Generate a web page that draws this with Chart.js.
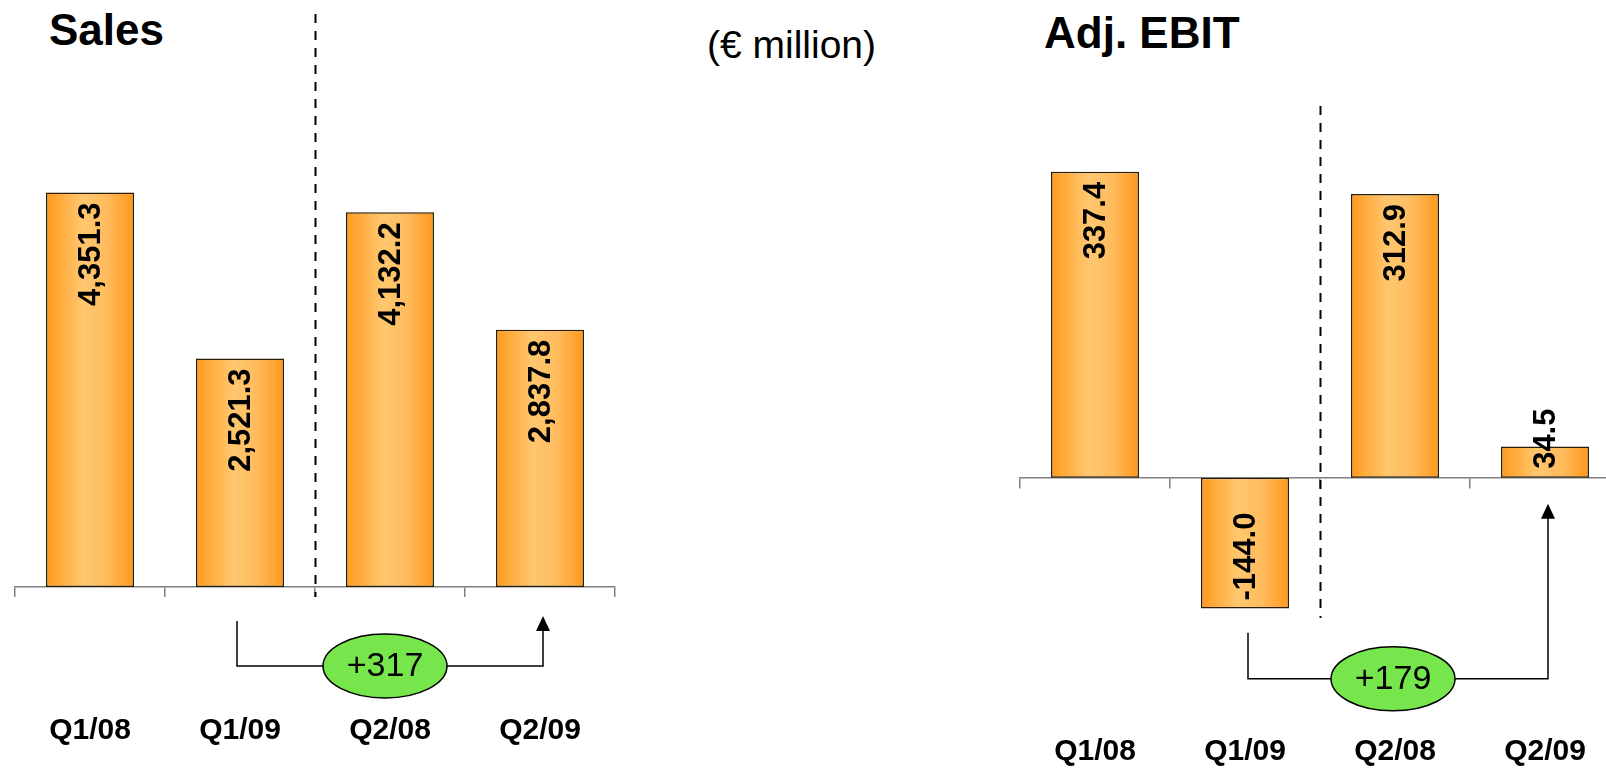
<!DOCTYPE html>
<html>
<head>
<meta charset="utf-8">
<script src="https://cdn.jsdelivr.net/npm/chart.js@4.4.1/dist/chart.umd.min.js"></script>
<style>
  html, body { margin: 0; padding: 0; width: 1606px; height: 769px; overflow: hidden; background: #fff; }
  body { position: relative; font-family: "Liberation Sans", Arial, sans-serif; }
  canvas { position: absolute; top: 0; }
  .title { position: absolute; font-weight: bold; font-size: 44px; line-height: 1; color: #000; white-space: nowrap; }
  .unit { position: absolute; font-size: 39px; line-height: 1; color: #000; white-space: nowrap; }
</style>
</head>
<body>

<div class="title" style="left:49px; top:8px;">Sales</div>
<div class="unit" style="left:707px; top:25px;">(€ million)</div>
<div class="title" style="left:1044px; top:11px;">Adj. EBIT</div>

<canvas id="salesChart" width="640" height="769" style="left:0;"></canvas>
<canvas id="ebitChart" width="640" height="769" style="left:1000px;"></canvas>

<script>
// ----------------------------------------------------
// data (€ million)
// ----------------------------------------------------
const quarters = ["Q1/08", "Q1/09", "Q2/08", "Q2/09"];
const salesValues = [4351.3, 2521.3, 4132.2, 2837.8];
const ebitValues = [337.4, -144.0, 312.9, 34.5];
const salesChange = "+317";
const ebitChange = "+179";

const FONT = '"Liberation Sans", Arial, sans-serif';
const BAR_PCT = 0.587;

function fmt(v) {
  return v.toLocaleString("en-US", { minimumFractionDigits: 1, maximumFractionDigits: 1 });
}

// orange bars with the lighter stripe left of centre
function barFill(c) {
  const chart = c.chart;
  const xs = chart.scales && chart.scales.x;
  if (!xs || c.dataIndex === undefined) return "#ffae42";
  const cx = xs.getPixelForValue(c.dataIndex);
  const half = xs.width / chart.data.labels.length * BAR_PCT / 2;
  if (!isFinite(cx) || !isFinite(half) || half <= 0) return "#ffae42";
  const g = chart.ctx.createLinearGradient(cx - half, 0, cx + half, 0);
  g.addColorStop(0, "#ff9a1c");
  g.addColorStop(0.42, "#ffc770");
  g.addColorStop(0.7, "#ffbb5c");
  g.addColorStop(1, "#ff971a");
  return g;
}

// rotated value labels inside the bars
const valueLabels = {
  id: "valueLabels",
  afterDatasetsDraw(chart) {
    const ctx = chart.ctx;
    const meta = chart.getDatasetMeta(0);
    const base = chart.scales.y.getPixelForValue(0);
    const data = chart.data.datasets[0].data;
    ctx.save();
    ctx.font = "bold 31px " + FONT;
    ctx.fillStyle = "#000";
    ctx.textBaseline = "middle";
    ctx.textAlign = "right";
    meta.data.forEach((bar, i) => {
      const txt = fmt(data[i]);
      const len = ctx.measureText(txt).width;
      let top;
      if (data[i] >= 0) {
        top = bar.y + 10;
        if (top + len > base - 9) top = base - 9 - len;
      } else {
        top = bar.y - 8 - len;
      }
      ctx.save();
      ctx.translate(bar.x + 1, top);
      ctx.rotate(-Math.PI / 2);
      ctx.fillText(txt, 0, 0);
      ctx.restore();
    });
    ctx.restore();
  }
};

// dashed separator between Q1 and Q2
const divider = {
  id: "divider",
  afterDatasetsDraw(chart, args, o) {
    const ctx = chart.ctx;
    const x = Math.round(chart.scales.x.getPixelForValue(1.5)) + 0.5;
    ctx.save();
    ctx.strokeStyle = "#000";
    ctx.lineWidth = 2;
    ctx.setLineDash([9, 8]);
    ctx.beginPath();
    ctx.moveTo(x, o.top);
    ctx.lineTo(x, o.bottom);
    ctx.stroke();
    ctx.restore();
  }
};

// bracket arrow with the green change bubble
const bracket = {
  id: "bracket",
  afterDraw(chart, args, o) {
    const ctx = chart.ctx;
    const xs = chart.scales.x;
    const y0 = chart.scales.y.getPixelForValue(0);
    const x1 = xs.getPixelForValue(o.from) + o.leftDx;
    const x2 = xs.getPixelForValue(o.to) + 3;
    const yStart = y0 + o.startDy, yLine = y0 + o.lineDy, yTip = y0 + o.tipDy;
    ctx.save();
    ctx.strokeStyle = "#000";
    ctx.fillStyle = "#000";
    ctx.lineWidth = 1.5;
    ctx.beginPath();
    ctx.moveTo(x1, yStart);
    ctx.lineTo(x1, yLine);
    ctx.lineTo(x2, yLine);
    ctx.lineTo(x2, yTip + 12);
    ctx.stroke();
    ctx.beginPath();
    ctx.moveTo(x2, yTip);
    ctx.lineTo(x2 - 7, yTip + 15);
    ctx.lineTo(x2 + 7, yTip + 15);
    ctx.closePath();
    ctx.fill();

    const cx = (x1 + x2) / 2 - 5;
    ctx.beginPath();
    ctx.ellipse(cx, yLine, 62, 32, 0, 0, Math.PI * 2);
    ctx.fillStyle = "#77e64d";
    ctx.fill();
    ctx.stroke();
    ctx.fillStyle = "#000";
    ctx.font = "34px " + FONT;
    ctx.textAlign = "center";
    ctx.textBaseline = "middle";
    ctx.fillText(o.text, cx, yLine + 1);
    ctx.restore();
  }
};

function makeChart(id, values, cfg) {
  return new Chart(document.getElementById(id), {
    type: "bar",
    data: {
      labels: quarters,
      datasets: [{
        data: values,
        backgroundColor: barFill,
        borderColor: "#2a1c00",
        borderWidth: 1.5,
        borderSkipped: false,
        barPercentage: BAR_PCT,
        categoryPercentage: 1
      }]
    },
    options: {
      responsive: false,
      animation: false,
      events: [],
      layout: { padding: cfg.padding },
      plugins: {
        legend: { display: false },
        tooltip: { enabled: false },
        divider: cfg.divider,
        bracket: cfg.bracket
      },
      scales: {
        x: {
          position: cfg.xPosition,
          afterFit: (s) => {
            s.height = cfg.axisHeight;
            s.paddingLeft = 0;
            s.paddingRight = 0;
          },
          grid: {
            display: true,
            drawOnChartArea: false,
            drawTicks: true,
            tickLength: 10,
            color: "#808080",
            lineWidth: 1.5,
            offset: true
          },
          border: { display: true, color: "#808080", width: 1.5 },
          ticks: {
            color: "#000",
            padding: cfg.labelPad,
            minRotation: 0,
            maxRotation: 0,
            autoSkip: false,
            font: { family: FONT, size: 30, weight: "bold", lineHeight: 1.2 }
          }
        },
        y: { display: false, min: cfg.min, max: cfg.max }
      }
    },
    plugins: [valueLabels, divider, bracket]
  });
}

makeChart("salesChart", salesValues, {
  padding: { left: 15, right: 25, top: 43, bottom: 0 },
  xPosition: "bottom",
  axisHeight: 182,
  labelPad: 116,
  min: 0, max: 6000,
  divider: { top: 14, bottom: 597 },
  bracket: { from: 1, to: 3, text: salesChange, leftDx: -3, startDy: 34, lineDy: 79, tipDy: 29 }
});

// x axis sits on zero here, so it takes no layout room: reserve it in padding
makeChart("ebitChart", ebitValues, {
  padding: { left: 20, right: 20, top: 115, bottom: 19 },
  xPosition: { y: 0 },
  axisHeight: 19,
  labelPad: 246,
  min: -300, max: 400,
  divider: { top: 106, bottom: 618 },
  bracket: { from: 1, to: 3, text: ebitChange, leftDx: 3, startDy: 155, lineDy: 201, tipDy: 26 }
});
</script>
</body>
</html>
